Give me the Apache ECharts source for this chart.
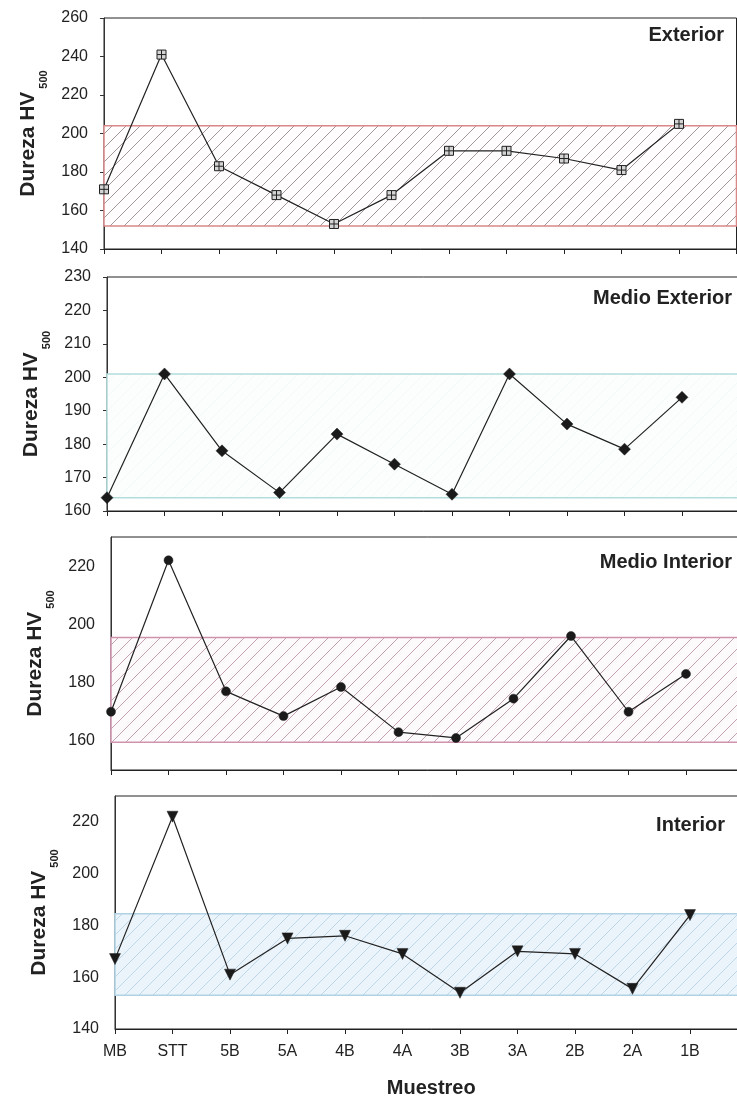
<!DOCTYPE html>
<html>
<head>
<meta charset="utf-8">
<script src="https://cdn.jsdelivr.net/npm/echarts@6/dist/echarts.min.js"></script>
<style>
  html, body { margin: 0; padding: 0; background: #ffffff; overflow: hidden; }
  #chart { width: 770px; height: 1099px; }
</style>
</head>
<body>
<div id="chart"></div>
<script>
// Sampling positions along the x axis
const categories = ['MB', 'STT', '5B', '5A', '4B', '4A', '3B', '3A', '2B', '2A', '1B'];

// Hardness HV500 per sampling position, one series per depth zone
const exterior      = [171, 241, 183, 168, 153, 168, 191, 191, 187, 181, 205];
const medioExterior = [164, 201, 178, 165.5, 183, 174, 165, 201, 186, 178.5, 194];
const medioInterior = [170, 222, 177, 168.5, 178.5, 163, 161, 174.5, 196, 170, 183];
const interior      = [167, 222, 161, 175, 176, 169, 154, 170, 169, 155.5, 184];

// Reference hardness band [lower, upper] for each zone
const exteriorBand      = [152, 204];
const medioExteriorBand = [164, 201];
const medioInteriorBand = [159.5, 195.5];
const interiorBand      = [153, 184.5];

// Value axis range [min, max, step]
const exteriorRange      = [140, 260, 20];
const medioExteriorRange = [160, 230, 10];
const medioInteriorRange = [150, 230, 10];
const interiorRange      = [140, 230, 10];

// Labelled y ticks
const exteriorTicks      = [140, 160, 180, 200, 220, 240, 260];
const medioExteriorTicks = [160, 170, 180, 190, 200, 210, 220, 230];
const medioInteriorTicks = [160, 180, 200, 220];
const interiorTicks      = [140, 160, 180, 200, 220];

const FONT = '"Liberation Sans", Arial, Helvetica, sans-serif';
// The canvas is a little wider than the page so the plots can run past its right edge
const CHART_WIDTH = 770;
const VIEW_WIDTH = 737;

// Diagonal hatch tile used to fill the reference bands
function hatch(bg, stroke, size, width) {
  const c = document.createElement('canvas');
  c.width = size; c.height = size;
  const g = c.getContext('2d');
  g.fillStyle = bg;
  g.fillRect(0, 0, size, size);
  g.strokeStyle = stroke;
  g.lineWidth = width;
  g.beginPath();
  g.moveTo(0, size); g.lineTo(size, 0);
  g.moveTo(-2, 2); g.lineTo(2, -2);
  g.moveTo(size - 2, size + 2); g.lineTo(size + 2, size - 2);
  g.stroke();
  return { image: c, repeat: 'repeat' };
}

const panels = [
  {
    title: 'Exterior', titleRight: 13, titleTop: 25,
    values: exterior, band: exteriorBand, range: exteriorRange, ticks: exteriorTicks,
    grid: { left: 104, top: 18, height: 231 }, showTicks: true,
    symbol: 'path://M0,0L10,0L10,10L0,10Z M5,0L5,10 M0,5L10,5', symbolSize: 9, symbolRotate: 0,
    markerFill: '#d4d4d4',
    fill: hatch('#fffdfd', 'rgba(100,80,85,0.75)', 14, 0.8),
    border: '#d98888'
  },
  {
    title: 'Medio Exterior', titleRight: 5, titleTop: 288,
    values: medioExterior, band: medioExteriorBand, range: medioExteriorRange, ticks: medioExteriorTicks,
    grid: { left: 107, top: 277, height: 234 }, showTicks: true,
    symbol: 'diamond', symbolSize: 12, symbolRotate: 0,
    markerFill: '#1a1a1a',
    fill: hatch('#fcfefe', 'rgba(215,235,235,0.35)', 14, 0.8),
    border: '#b3dcdc'
  },
  {
    title: 'Medio Interior', titleRight: 5, titleTop: 552,
    values: medioInterior, band: medioInteriorBand, range: medioInteriorRange, ticks: medioInteriorTicks,
    grid: { left: 111, top: 537, height: 233 }, showTicks: false,
    symbol: 'circle', symbolSize: 9, symbolRotate: 0,
    markerFill: '#1a1a1a',
    fill: hatch('#fdfafc', 'rgba(160,110,140,0.8)', 14, 0.8),
    border: '#cf93ad'
  },
  {
    title: 'Interior', titleRight: 12, titleTop: 815,
    values: interior, band: interiorBand, range: interiorRange, ticks: interiorTicks,
    grid: { left: 115, top: 796, height: 233 }, showTicks: false,
    symbol: 'triangle', symbolSize: 11, symbolRotate: 180,
    markerFill: '#1a1a1a',
    fill: hatch('#ebf4fa', 'rgba(185,212,230,0.9)', 14, 1),
    border: '#b0d2e3'
  }
];

// One empty slot follows the last category, so the plot is 11 slots wide
const slotWidth = 57.5;
const xCategories = categories.concat(['']);
const last = panels.length - 1;

const option = {
  animation: false,
  backgroundColor: '#ffffff',
  textStyle: { fontFamily: FONT },
  title: panels.map(p => ({
    text: p.title, right: p.titleRight + (CHART_WIDTH - VIEW_WIDTH), top: p.titleTop, padding: 0,
    textStyle: { fontFamily: FONT, fontSize: 20, fontWeight: 'bold', color: '#222' }
  })),
  grid: panels.map(p => ({
    left: p.grid.left, top: p.grid.top, height: p.grid.height,
    right: CHART_WIDTH - (p.grid.left + slotWidth * categories.length),
    outerBoundsMode: 'none',
    show: true, borderColor: '#222', borderWidth: 1, backgroundColor: 'transparent'
  })),
  xAxis: panels.map((p, i) => ({
    type: 'category', gridIndex: i, data: xCategories, boundaryGap: false,
    axisLine: { show: true, lineStyle: { color: '#222', width: 1 } },
    axisTick: { show: true, length: 5, interval: 0, lineStyle: { color: '#222' } },
    axisLabel: {
      show: i === last, interval: 0, margin: 15,
      fontFamily: FONT, fontSize: 16, color: '#222'
    },
    splitLine: { show: false },
    name: i === last ? 'Muestreo' : '',
    nameLocation: 'middle', nameGap: 49,
    nameTextStyle: { fontFamily: FONT, fontSize: 20, fontWeight: 'bold', color: '#222' }
  })),
  yAxis: panels.map((p, i) => ({
    type: 'value', gridIndex: i,
    min: p.range[0], max: p.range[1], interval: p.range[2],
    axisLine: { show: true, lineStyle: { color: '#333', width: 1 } },
    axisTick: { show: p.showTicks, length: 4, lineStyle: { color: '#333' } },
    axisLabel: {
      margin: 16, fontFamily: FONT, fontSize: 16, color: '#222',
      formatter: v => (p.ticks.includes(v) ? String(v) : '')
    },
    splitLine: { show: false },
    name: '{a|Dureza HV}{b|500}',
    nameLocation: 'middle', nameGap: 55,
    nameTextStyle: {
      rich: {
        a: { fontFamily: FONT, fontSize: 21, fontWeight: 'bold', color: '#222' },
        b: { fontFamily: FONT, fontSize: 11, fontWeight: 'bold', color: '#222',
             verticalAlign: 'bottom', padding: [30, 0, 0, 3] }
      }
    }
  })),
  series: panels.map((p, i) => ({
    type: 'line', xAxisIndex: i, yAxisIndex: i,
    data: p.values,
    symbol: p.symbol, symbolSize: p.symbolSize, symbolRotate: p.symbolRotate,
    showAllSymbol: true,
    lineStyle: { color: '#222', width: 1.2 },
    itemStyle: { color: p.markerFill, borderColor: '#222', borderWidth: i === 0 ? 1 : 0.5 },
    z: 3,
    markArea: {
      silent: true,
      z: 1,
      label: { show: false },
      itemStyle: { color: p.fill, borderColor: p.border, borderWidth: 1.5 },
      data: [[{ yAxis: p.band[0] }, { yAxis: p.band[1] }]]
    }
  }))
};

const chart = echarts.init(document.getElementById('chart'), null, { renderer: 'canvas' });
chart.setOption(option);
</script>
</body>
</html>
